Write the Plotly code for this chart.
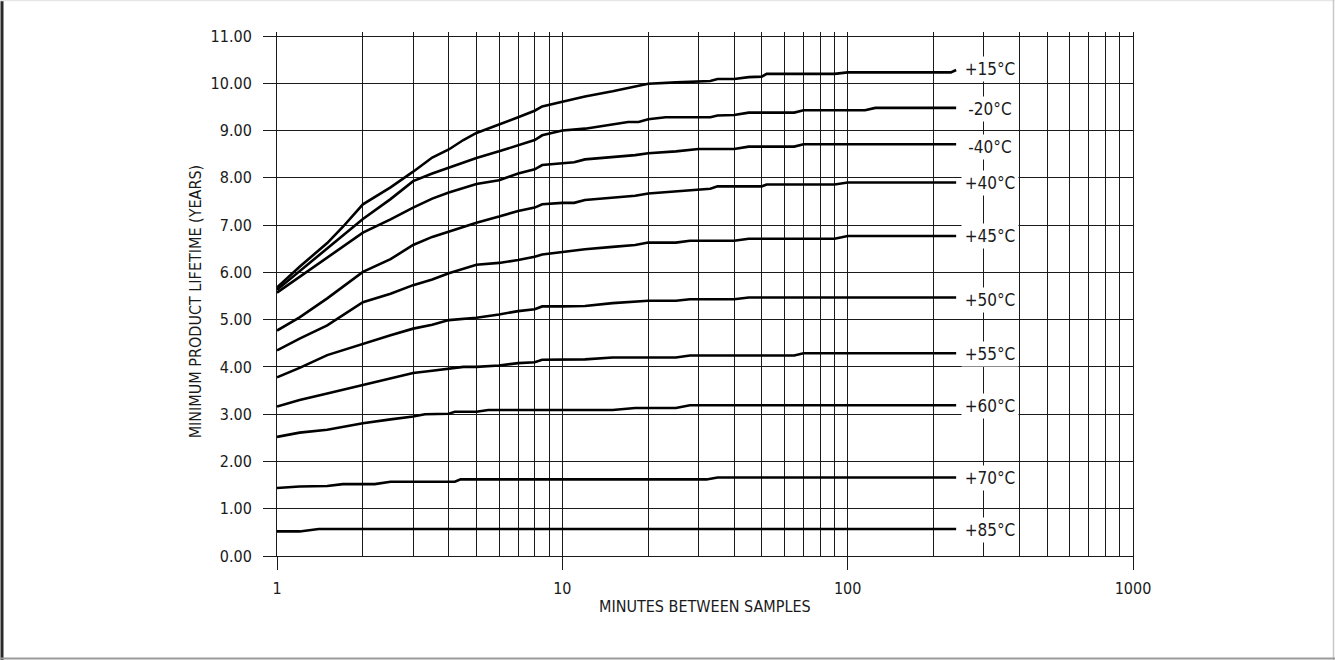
import plotly.graph_objects as go
import math

# ---------------- data ----------------
labels = ["+15°C", "-20°C", "-40°C", "+40°C", "+45°C", "+50°C", "+55°C", "+60°C", "+70°C", "+85°C"]

t15_x = [1, 1.2, 1.5, 1.7, 2, 2.5, 3, 3.5, 4, 4.5, 5, 6, 7, 8, 8.5, 10, 12, 15, 20, 25, 30, 33, 35, 40, 45, 50, 52, 90, 100, 230, 240]
t15_y = [5.68, 6.12, 6.62, 6.96, 7.44, 7.80, 8.13, 8.43, 8.60, 8.80, 8.95, 9.12, 9.28, 9.42, 9.51, 9.61, 9.72, 9.83, 9.99, 10.02, 10.05, 10.05, 10.09, 10.09, 10.13, 10.14, 10.20, 10.20, 10.23, 10.23, 10.28]

m20_x = [1, 1.2, 1.5, 2, 2.5, 3, 3.5, 4, 4.5, 5, 6, 7, 8, 8.5, 10, 12, 15, 17, 18.5, 20, 23, 33, 35, 40, 45, 65, 70, 115, 125, 240]
m20_y = [5.63, 6.02, 6.50, 7.13, 7.55, 7.93, 8.09, 8.21, 8.33, 8.42, 8.56, 8.68, 8.80, 8.90, 9.00, 9.04, 9.13, 9.18, 9.18, 9.24, 9.28, 9.28, 9.32, 9.33, 9.38, 9.38, 9.43, 9.43, 9.48, 9.48]

m40_x = [1, 1.2, 1.5, 2, 2.5, 3, 3.5, 4, 5, 6, 7, 8, 8.5, 10, 11, 12, 15, 18, 20, 25, 30, 40, 45, 65, 70, 240]
m40_y = [5.57, 5.90, 6.31, 6.84, 7.12, 7.37, 7.56, 7.69, 7.87, 7.95, 8.09, 8.18, 8.27, 8.30, 8.33, 8.39, 8.44, 8.48, 8.52, 8.56, 8.61, 8.61, 8.66, 8.66, 8.71, 8.71]

p40_x = [1, 1.2, 1.5, 2, 2.5, 3, 3.5, 4, 5, 6, 7, 8, 8.5, 10, 11, 12, 15, 18, 20, 25, 30, 33, 35, 50, 52, 90, 100, 240]
p40_y = [4.77, 5.05, 5.45, 6.01, 6.28, 6.58, 6.75, 6.86, 7.05, 7.18, 7.30, 7.37, 7.44, 7.47, 7.47, 7.53, 7.58, 7.62, 7.67, 7.72, 7.76, 7.77, 7.82, 7.82, 7.86, 7.86, 7.90, 7.90]

p45_x = [1, 1.2, 1.5, 2, 2.5, 3, 3.5, 4, 5, 6, 7, 8, 8.5, 10, 12, 15, 18, 20, 25, 28, 40, 45, 90, 100, 240]
p45_y = [4.35, 4.60, 4.88, 5.37, 5.55, 5.73, 5.85, 5.98, 6.16, 6.20, 6.26, 6.33, 6.38, 6.43, 6.49, 6.54, 6.58, 6.63, 6.63, 6.67, 6.67, 6.71, 6.71, 6.77, 6.77]

p50_x = [1, 1.2, 1.5, 2, 2.5, 3, 3.5, 4, 5, 6, 7, 8, 8.5, 10, 12, 15, 20, 25, 28, 40, 45, 240]
p50_y = [3.78, 3.98, 4.25, 4.49, 4.67, 4.81, 4.89, 4.99, 5.04, 5.11, 5.18, 5.22, 5.28, 5.28, 5.29, 5.35, 5.40, 5.40, 5.43, 5.43, 5.47, 5.47]

p55_x = [1, 1.2, 1.5, 2, 2.5, 3, 3.5, 4, 4.5, 5, 6, 7, 8, 8.5, 10, 12, 15, 20, 25, 28, 65, 70, 240]
p55_y = [3.16, 3.30, 3.44, 3.62, 3.76, 3.87, 3.92, 3.96, 4.00, 4.00, 4.03, 4.08, 4.10, 4.15, 4.15, 4.16, 4.20, 4.20, 4.20, 4.24, 4.24, 4.29, 4.29]

p60_x = [1, 1.2, 1.5, 2, 2.5, 3, 3.3, 4, 4.2, 5, 5.5, 10, 15, 18, 25, 28, 240]
p60_y = [2.52, 2.61, 2.67, 2.81, 2.89, 2.95, 3.00, 3.01, 3.05, 3.05, 3.09, 3.09, 3.09, 3.13, 3.13, 3.19, 3.19]

p70_x = [1, 1.2, 1.5, 1.7, 2.2, 2.5, 4.2, 4.4, 32, 35, 240]
p70_y = [1.44, 1.47, 1.48, 1.52, 1.52, 1.57, 1.57, 1.62, 1.62, 1.66, 1.66]

p85_x = [1, 1.2, 1.4, 240]
p85_y = [0.52, 0.52, 0.57, 0.57]

label_y = [10.30, 9.45, 8.65, 7.89, 6.76, 5.42, 4.27, 3.18, 1.64, 0.54]

x_major = [1, 10, 100, 1000]
x_major_text = ["1", "10", "100", "1000"]
x_minor = [m * d for d in (1, 10, 100) for m in range(2, 10)]
y_ticks = list(range(0, 12))

series = [(t15_x, t15_y), (m20_x, m20_y), (m40_x, m40_y), (p40_x, p40_y), (p45_x, p45_y),
          (p50_x, p50_y), (p55_x, p55_y), (p60_x, p60_y), (p70_x, p70_y), (p85_x, p85_y)]

# ---------------- figure ----------------
FONT = "Liberation Sans Narrow, Arial Narrow, DejaVu Sans Condensed, sans-serif"
INK = "#1a1a1a"

fig = go.Figure()
for (xs, ys), name in zip(series, labels):
    fig.add_trace(go.Scatter(x=xs, y=ys, mode="lines", name=name,
                             line=dict(color="black", width=2.6), showlegend=False,
                             hoverinfo="x+y+name"))

label_x = 315
for name, ly in zip(labels, label_y):
    fig.add_annotation(x=math.log10(label_x), y=ly, xref="x", yref="y", text=name,
                       showarrow=False, bgcolor="white", width=54, height=22,
                       xanchor="center", yanchor="middle",
                       font=dict(family=FONT, size=17, color=INK))

# axis titles
fig.add_annotation(x=-0.0958, y=0.486, xref="paper", yref="paper",
                   text="MINIMUM PRODUCT LIFETIME (YEARS)", textangle=-90,
                   xanchor="center", yanchor="middle",
                   showarrow=False, font=dict(family=FONT, size=16, color=INK))
fig.add_annotation(x=0.5, y=-0.097, xref="paper", yref="paper",
                   text="MINUTES BETWEEN SAMPLES", showarrow=False,
                   xanchor="center", yanchor="middle",
                   font=dict(family=FONT, size=16, color=INK))

# outer frame
W, H, L, R, T, B = 1335, 660, 277, 202, 32, 104
pw, ph = W - L - R, H - T - B
def px(x): return (x - L) / pw
def py(y): return (H - B - y) / ph
fig.add_shape(type="line", xref="paper", yref="paper", x0=px(2), x1=px(2), y0=py(0), y1=py(660),
              line=dict(color="#2a2a2a", width=3))
fig.add_shape(type="line", xref="paper", yref="paper", x0=px(0), x1=px(1335), y0=py(0.5), y1=py(0.5),
              line=dict(color="#e6e6e6", width=1.5))
fig.add_shape(type="line", xref="paper", yref="paper", x0=px(1333.5), x1=px(1333.5), y0=py(0), y1=py(660),
              line=dict(color="#c8c8c8", width=1.5))
fig.add_shape(type="line", xref="paper", yref="paper", x0=px(0), x1=px(1335), y0=py(658.5), y1=py(658.5),
              line=dict(color="#9a9a9a", width=2))

fig.update_xaxes(type="log", range=[0, 3], tickvals=x_major, ticktext=x_major_text,
                 showgrid=True, gridcolor=INK, gridwidth=1,
                 ticks="outside", ticklen=13, tickcolor=INK, tickwidth=1,
                 showline=True, linecolor=INK, linewidth=1, mirror=False,
                 minor=dict(tickvals=x_minor, showgrid=True, gridcolor=INK, gridwidth=1, ticks=""),
                 ticklabelstandoff=5,
                 tickfont=dict(family=FONT, size=16, color=INK), zeroline=False)
fig.update_yaxes(range=[0, 11.085], tickvals=y_ticks, tickformat=".2f",
                 showgrid=True, gridcolor=INK, gridwidth=1,
                 ticks="outside", ticklen=13, tickcolor=INK, tickwidth=1,
                 showline=True, linecolor=INK, linewidth=1, mirror=True,
                 ticklabelstandoff=8,
                 tickfont=dict(family=FONT, size=16, color=INK), zeroline=False)

fig.update_layout(width=W, height=H, margin=dict(l=L, r=R, t=T, b=B),
                  paper_bgcolor="white", plot_bgcolor="white",
                  font=dict(family=FONT, color=INK))

fig.write_html("out.html", config={"displayModeBar": False},
               post_script="document.body.style.margin='0px';document.body.style.padding='0px';")
